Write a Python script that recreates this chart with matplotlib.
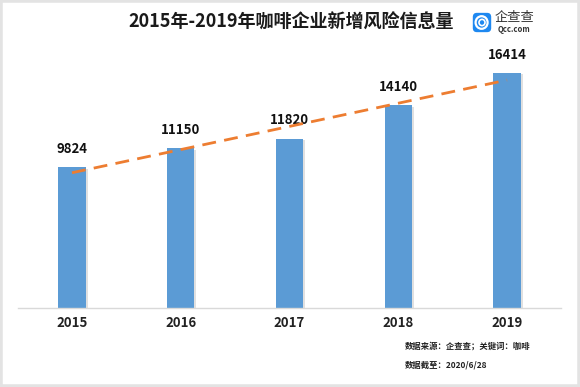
import numpy as np
import matplotlib.pyplot as plt
import matplotlib.patheffects as pe
from matplotlib.patches import FancyBboxPatch, Rectangle, Circle

plt.rcParams['font.family'] = ['Noto Sans CJK SC', 'DejaVu Sans']

# data
years = ['2015', '2016', '2017', '2018', '2019']
counts = [9824, 11150, 11820, 14140, 16414]
title = '2015年-2019年咖啡企业新增风险信息量'
source_note = '数据来源：企查查；关键词：咖啡'
date_note = '数据截至：2020/6/28'

W, H = 580, 387
fig = plt.figure(figsize=(W / 100, H / 100), dpi=100)

# light gray frame
fig.patches.append(Rectangle((0, 0), 1, 1, transform=fig.transFigure,
                             facecolor='white', edgecolor='#e3e3e3', linewidth=4, zorder=-10))

ax = fig.add_axes([17.6 / W, 79 / H, 543.8 / W, 258 / H])
x = np.arange(len(years))
bars = ax.bar(x, counts, width=0.25, color='#5b9bd5', zorder=2)
for b in bars:
    b.set_path_effects([pe.SimplePatchShadow(offset=(1.5, -1), shadow_rgbFace='#999999', alpha=0.3),
                        pe.Normal()])

# linear trend line
k, c0 = np.polyfit(x, counts, 1)
ax.plot(x, k * x + c0, color='#ed7d31', lw=2, dashes=(5, 3), zorder=4)

for xi, v in zip(x, counts):
    ax.annotate(str(v), (xi, v), xytext=(0, 8), textcoords='offset points',
                ha='center', va='bottom', fontsize=9.5, fontweight='bold', color='#111111', zorder=3)

ax.set_xlim(-0.5, len(years) - 0.5)
ax.set_ylim(0, 18000)
ax.set_xticks(x)
ax.set_xticklabels(years, fontsize=9.5, fontweight='bold', color='#222222')
ax.tick_params(axis='x', length=0, pad=6)
ax.set_yticks([])
for s in ['top', 'right', 'left']:
    ax.spines[s].set_visible(False)
ax.spines['bottom'].set_color('#d9d9d9')
ax.spines['bottom'].set_linewidth(1)

fig.text(291 / W, 1 - 22 / H, title, ha='center', va='center',
         fontsize=13, fontweight='bold', color='#1a1a1a')

# logo
lax = fig.add_axes([472 / W, 1 - 33 / H, 20 / W, 21 / H])
lax.set_xlim(0, 1)
lax.set_ylim(0, 1)
lax.axis('off')
lax.add_patch(FancyBboxPatch((0.04, 0.04), 0.92, 0.92, boxstyle='round,pad=0,rounding_size=0.2',
                             facecolor='#1e88f0', edgecolor='none'))
lax.add_patch(Circle((0.48, 0.5), 0.3, facecolor='none', edgecolor='white', lw=1.6))
lax.add_patch(Circle((0.5, 0.5), 0.15, facecolor='none', edgecolor='white', lw=1.2))
fig.text(514 / W, 1 - 18 / H, '企查查', ha='center', va='center', fontsize=9.5, color='#333333')
fig.text(514 / W, 1 - 29.5 / H, 'Qcc.com', ha='center', va='center', fontsize=5.5,
         fontweight='bold', color='#333333')

fig.text(405 / W, 1 - 346 / H, source_note, ha='left', va='center', fontsize=6,
         fontweight='bold', color='#222222')
fig.text(405 / W, 1 - 365 / H, date_note, ha='left', va='center', fontsize=6,
         fontweight='bold', color='#222222')

fig.savefig('out.png', dpi=100)
